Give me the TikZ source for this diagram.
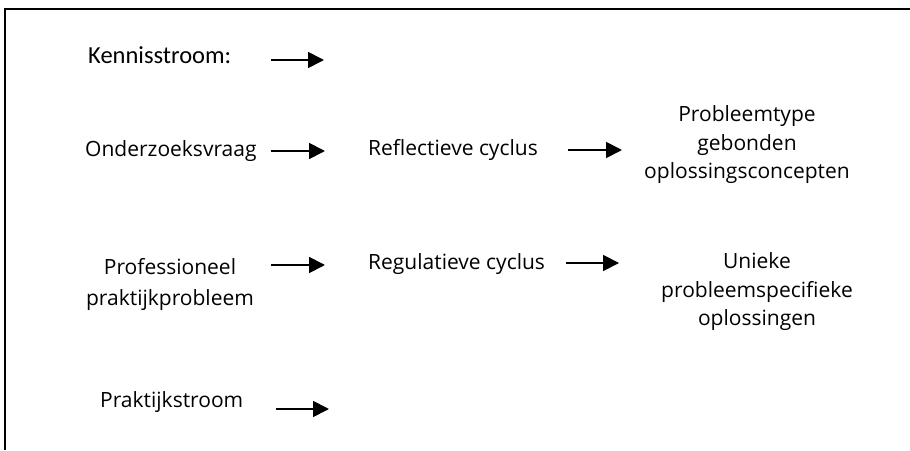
\documentclass[tikz,border=0pt]{standalone}
\usepackage{fontspec}
\setmainfont{Open Sans}
\newfontfamily\legendfont{Carlito}
\usetikzlibrary{arrows.meta}
\begin{document}
\begin{tikzpicture}[x=1pt,y=1pt,
  lbl/.style={inner sep=0pt, font=\fontsize{21}{28.5}\selectfont},
  leg/.style={inner sep=0pt, font=\legendfont\fontsize{24.5}{29}\selectfont},
  arr/.style={line width=1.8pt, -{Triangle[length=16pt,width=16pt]}},
  framestyle/.style={line width=2pt}]
\useasboundingbox (0,0) rectangle (910,450);
% frame (top and left edges only)
\coordinate (fbl) at (5,0);
\coordinate (ftl) at (5,441);
\coordinate (ftr) at (910,441);
\draw[framestyle] (fbl) -- (ftl) -- (ftr);

% legend
\node[leg, anchor=base west] (ks) at (88,386) {Kennisstroom:};
\node[lbl, anchor=base west] (ps) at (100,43) {Praktijkstroom};
\coordinate (ksa) at (271,390);
\coordinate (ksb) at (324,390);
\coordinate (psa) at (276,41);
\coordinate (psb) at (329,41);
\draw[arr] (ksa) -- (ksb);
\draw[arr] (psa) -- (psb);

% upper row
\node[lbl, anchor=base west] (ov) at (85,293) {Onderzoeksvraag};
\node[lbl, anchor=base west] (rc) at (368,294) {Reflectieve cyclus};
\node[lbl, anchor=base] (pt) at (747,328)
  {\begin{tabular}[t]{@{}c@{}}Probleemtype\\gebonden\\oplossingsconcepten\end{tabular}};

% lower row
\node[lbl, anchor=base, font=\fontsize{21}{31}\selectfont] (pp) at (170,175)
  {\begin{tabular}[t]{@{}c@{}}Professioneel\\praktijkprobleem\end{tabular}};
\node[lbl, anchor=base west] (gc) at (368,180) {Regulatieve cyclus};
\node[lbl, anchor=base] (uo) at (757,181)
  {\begin{tabular}[t]{@{}c@{}}Unieke\\probleemspecifieke\\oplossingen\end{tabular}};

% connectors
\coordinate (a1) at ([xshift=14pt,yshift=6pt]ov.base east);
\draw[arr] (a1) -- ([xshift=-43pt]rc.base west |- a1);
\coordinate (a2) at ([xshift=30pt,yshift=6pt]rc.base east);
\draw[arr] (a2) -- ([xshift=-22pt]pt.west |- a2);
\coordinate (a3) at ([xshift=-43pt,yshift=5pt]gc.base west);
\draw[arr] ([xshift=17pt]pp.east |- a3) -- (a3);
\coordinate (a4) at ([xshift=21pt,yshift=7pt]gc.base east);
\draw[arr] (a4) -- ([xshift=-42pt]uo.west |- a4);
\end{tikzpicture}
\end{document}
